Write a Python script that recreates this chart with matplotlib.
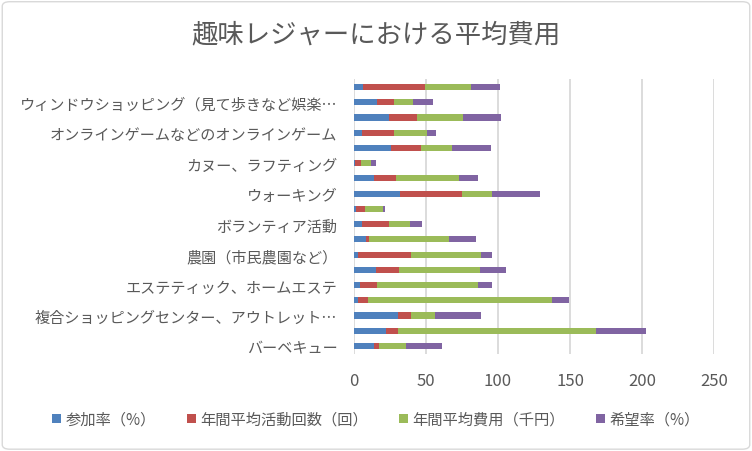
import matplotlib.pyplot as plt
import numpy as np
from matplotlib.patches import FancyBboxPatch

plt.rcParams['font.family'] = ['Noto Sans CJK JP', 'DejaVu Sans']

# categories from bottom to top (only every other one is labelled in the chart)
categories = ['バーベキュー', '', '複合ショッピングセンター、アウトレット…', '',
              'エステティック、ホームエステ', '', '農園（市民農園など）', '',
              'ボランティア活動', '', 'ウォーキング', '', 'カヌー、ラフティング', '',
              'オンラインゲームなどのオンラインゲーム', '',
              'ウィンドウショッピング（見て歩きなど娯楽…', '']

series_names = ['参加率（%）', '年間平均活動回数（回）', '年間平均費用（千円）', '希望率（%）']

sanka = [13.9, 22.2, 30.6, 2.8, 4.2, 15.3, 2.8, 8.3, 5.6, 1.2,
         31.9, 13.9, 0.5, 25.9, 5.6, 24.5, 16.2, 6.5]
kaisu = [3.5, 8.3, 9.0, 6.9, 11.8, 16.0, 36.8, 2.1, 18.7, 6.4,
         43.1, 15.3, 4.4, 20.6, 22.2, 19.2, 11.6, 42.8]
hiyou = [18.7, 137.7, 16.7, 127.8, 70.1, 56.2, 48.6, 55.6, 14.6, 12.5,
         20.8, 43.7, 6.9, 21.5, 22.9, 32.0, 13.2, 31.9]
kibou = [25.0, 34.7, 31.9, 11.8, 9.7, 18.1, 7.6, 18.7, 8.3, 1.4,
         33.4, 13.2, 3.5, 27.1, 6.2, 26.4, 13.9, 20.1]

colors = ['#4F81BD', '#C0504D', '#9BBB59', '#8064A2']
txt = '#595959'

fig = plt.figure(figsize=(7.52, 4.52), dpi=100)
ax = fig.add_axes([0.4707, 0.2155, 0.4788, 0.6066])

y = np.arange(len(categories))
left = np.zeros(len(categories))
for vals, name, c in zip([sanka, kaisu, hiyou, kibou], series_names, colors):
    ax.barh(y, vals, left=left, height=0.4, color=c, label=name, zorder=3)
    left += np.array(vals)

ax.set_xlim(0, 250)
ax.set_ylim(-0.5, len(categories) - 0.5)
ax.set_xticks(np.arange(0, 251, 50))
ax.set_yticks(y)
ax.set_yticklabels(categories, fontsize=10.9)
ax.grid(axis='x', color='#D9D9D9', linewidth=1.3, zorder=0)
for s in ax.spines.values():
    s.set_visible(False)
ax.tick_params(axis='both', length=0, colors=txt)
ax.tick_params(axis='x', pad=13, labelsize=12)
ax.tick_params(axis='y', pad=12)

fig.text(0.5, 0.922, '趣味レジャーにおける平均費用', ha='center', va='center',
         fontsize=19, color=txt)

fig.legend(loc='center', bbox_to_anchor=(0.5, 0.07), ncol=4, frameon=False,
           fontsize=11, handlelength=0.6, handleheight=0.6, handletextpad=0.3,
           columnspacing=2.0, labelcolor=txt)

border = FancyBboxPatch((0.003, 0.004), 0.994, 0.99, boxstyle='round,pad=0,rounding_size=0.01',
                        transform=fig.transFigure, fill=False, edgecolor='#D9D9D9', linewidth=1)
fig.patches.append(border)

fig.savefig('out.png', dpi=100)
